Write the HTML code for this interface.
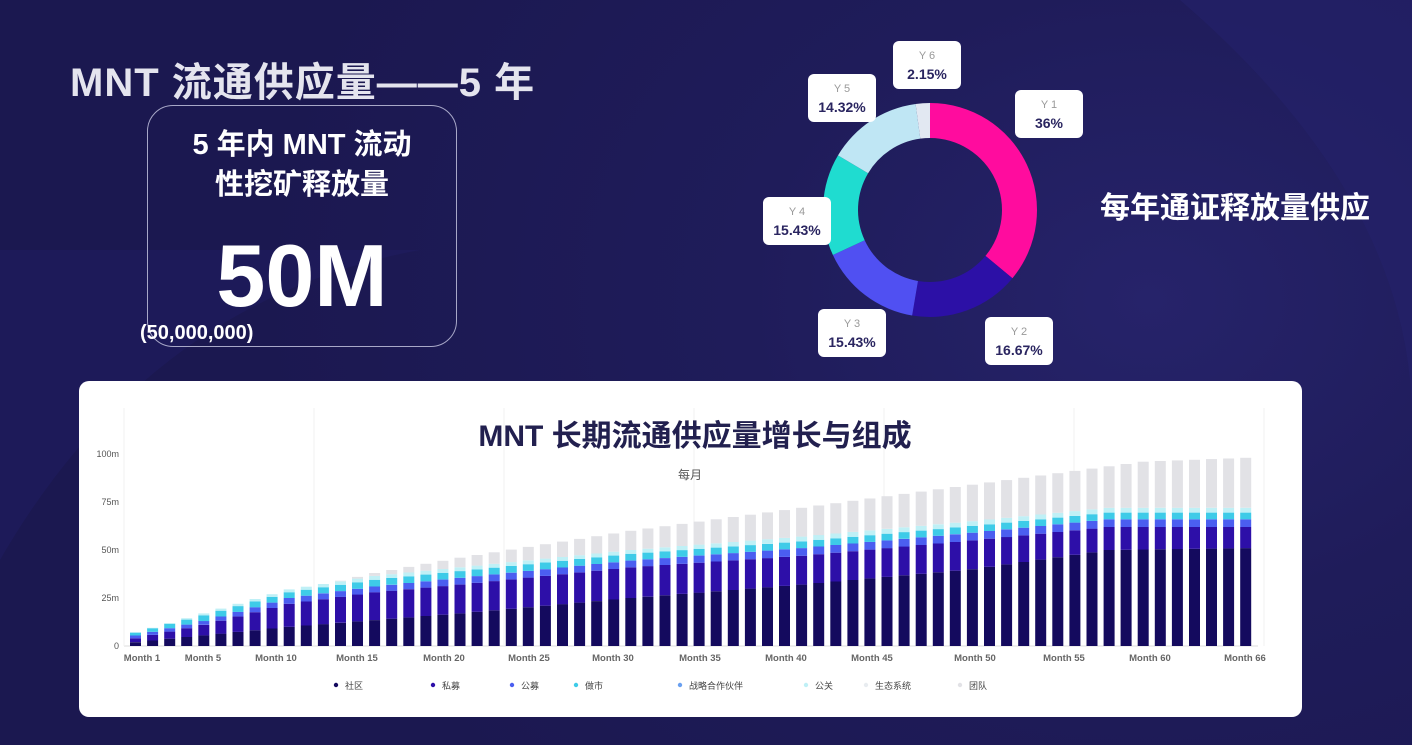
<!DOCTYPE html>
<html><head><meta charset="utf-8">
<style>
html,body{margin:0;padding:0}
body{width:1412px;height:745px;overflow:hidden;position:relative;
background:radial-gradient(ellipse 900px 700px at 1150px 300px,#26236a 0%,#1f1c5a 45%,#1b1850 100%);
font-family:"Liberation Sans","Noto Sans CJK SC",sans-serif;color:#fff}
.t{position:absolute;white-space:nowrap}
</style></head><body>
<svg width="1412" height="745" style="position:absolute;left:0;top:0">
<path d="M1180 0 Q1412 200 1412 420 L1412 0Z" fill="#24216a" opacity="0.6"/>
<path d="M0 560 Q150 300 420 250 L0 250Z" fill="#23206a" opacity="0.35"/>
</svg>
<div class="t" style="left:70px;top:50px;font-size:40px;font-weight:bold;color:#e4e4ee;letter-spacing:1px">MNT 流通供应量——5 年</div>
<div style="position:absolute;left:147px;top:105px;width:310px;height:242px;border:1.5px solid #a8a8c8;border-radius:26px;box-sizing:border-box"></div>
<div class="t" style="left:147px;width:310px;text-align:center;top:125px;font-size:29px;font-weight:bold;line-height:40px">5 年内 MNT 流动<br>性挖矿释放量</div>
<div class="t" style="left:147px;width:310px;text-align:center;top:230px;font-size:88px;font-weight:bold;line-height:92px">50M</div>
<div class="t" style="left:140px;top:322px;font-size:20px;font-weight:bold">(50,000,000)</div>
<div class="t" style="left:1100px;top:183px;font-size:30px;font-weight:bold">每年通证释放量供应</div>
<svg width="1412" height="745" style="position:absolute;left:0;top:0" id="donut"></svg>
<div style="position:absolute;left:79px;top:381px;width:1223px;height:336px;background:#fff;border-radius:10px"></div>
<svg width="1412" height="745" style="position:absolute;left:0;top:0" id="chart"></svg>
<script>
var cx=930,cy=210,R=107,r=72;
var segs=[[36,"#ff0c9e"],[16.67,"#2c10a6"],[15.43,"#5050f2"],[15.43,"#1fdcd0"],[14.32,"#bfe6f4"],[2.15,"#e2e8f2"]];
var s="",a=0;
function pt(rad,ang){return [cx+rad*Math.sin(ang),cy-rad*Math.cos(ang)];}
segs.forEach(function(g){var a0=a/100*2*Math.PI,a1=(a+g[0])/100*2*Math.PI;a+=g[0];
var p1=pt(R,a0),p2=pt(R,a1),p3=pt(r,a1),p4=pt(r,a0),lg=(a1-a0)>Math.PI?1:0;
s+='<path d="M'+p1+' A'+R+' '+R+' 0 '+lg+' 1 '+p2+' L'+p3+' A'+r+' '+r+' 0 '+lg+' 0 '+p4+'Z" fill="'+g[1]+'"/>';});
var labs=[[1015,90,"Y 1","36%"],[985,317,"Y 2","16.67%"],[818,309,"Y 3","15.43%"],[763,197,"Y 4","15.43%"],[808,74,"Y 5","14.32%"],[893,41,"Y 6","2.15%"]];
labs.forEach(function(l){s+='<rect x="'+l[0]+'" y="'+l[1]+'" width="68" height="48" rx="6" fill="#fff"/>'+
'<text x="'+(l[0]+34)+'" y="'+(l[1]+18)+'" text-anchor="middle" font-size="11" fill="#999" font-family="Liberation Sans">'+l[2]+'</text>'+
'<text x="'+(l[0]+34)+'" y="'+(l[1]+38)+'" text-anchor="middle" font-size="14" font-weight="bold" fill="#2a2560" font-family="Liberation Sans">'+l[3]+'</text>';});
document.getElementById('donut').innerHTML=s;
function interp(pts,t){for(var i=0;i<pts.length-1;i++){if(t<=pts[i+1][0]){var f=(t-pts[i][0])/(pts[i+1][0]-pts[i][0]);return pts[i][1]+f*(pts[i+1][1]-pts[i][1]);}}return pts[pts.length-1][1];}
var T=[[1,7],[5,17],[10,28],[15,38],[20,46],[25,53],[30,60],[35,66],[40,72],[45,78],[50,84],[55,90],[60,96],[66,98]];
var C=[[1,2],[10,10],[20,17],[30,25],[40,32],[50,40],[58,50],[66,51]];
var P=[[1,4],[5,11],[10,22],[15,28],[20,32],[30,41],[40,47],[50,55],[58,62],[66,62]];
var Pu=[[1,5.5],[5,13],[10,25],[15,31],[20,35.5],[30,44.5],[40,51],[50,59],[58,66],[66,66]];
var M=[[1,7],[5,16],[10,28],[15,34.5],[20,39],[30,48],[40,54.5],[50,62.5],[58,69.5],[66,69.5]];
var E=[[1,7],[5,17],[10,29.5],[15,36.5],[20,41],[30,50],[40,57],[50,65],[58,72],[66,72]];
var y0=646,k=1.92,c="";
c+='<line x1="124" y1="408" x2="124" y2="646" stroke="#ddd"/><line x1="124" y1="646" x2="1258" y2="646" stroke="#ddd"/>';
for(var g=0;g<=6;g++){var gx=124+g*190;c+='<line x1="'+gx+'" y1="408" x2="'+gx+'" y2="646" stroke="#f2f2f2"/>';}
[[0,"0"],[25,"25m"],[50,"50m"],[75,"75m"],[100,"100m"]].forEach(function(v){c+='<text x="119" y="'+(y0-v[0]*k+3)+'" text-anchor="end" font-size="9" fill="#555" font-family="Liberation Sans">'+v[1]+'</text>';});
for(var t=1;t<=66;t++){var x=130+(t-1)*17.08,w=11;
var vals=[[interp(C,t),"#140a5e"],[interp(P,t),"#2d0fa8"],[interp(Pu,t),"#4b5ef0"],[interp(M,t),"#3ecbe8"],[Math.max(interp(E,t),interp(M,t)),"#bff0f6"],[Math.max(interp(T,t),interp(E,t)),"#e2e2e6"]];
var prev=0;for(var i=0;i<vals.length;i++){var v=vals[i][0];if(v>prev){c+='<rect x="'+x.toFixed(1)+'" y="'+(y0-v*k).toFixed(1)+'" width="'+w+'" height="'+((v-prev)*k).toFixed(1)+'" fill="'+vals[i][1]+'"/>';prev=v;}}}
[[142,"Month 1"],[203,"Month 5"],[276,"Month 10"],[357,"Month 15"],[444,"Month 20"],[529,"Month 25"],[613,"Month 30"],[700,"Month 35"],[786,"Month 40"],[872,"Month 45"],[975,"Month 50"],[1064,"Month 55"],[1150,"Month 60"],[1245,"Month 66"]].forEach(function(m){c+='<text x="'+m[0]+'' +'" y="661" text-anchor="middle" font-size="9.5" font-weight="bold" fill="#666" font-family="Liberation Sans">'+m[1]+'</text>';});
c+='<text x="695" y="446" text-anchor="middle" font-size="30" font-weight="bold" fill="#22204f" font-family="Liberation Sans,Noto Sans CJK SC,sans-serif">MNT 长期流通供应量增长与组成</text>';
c+='<text x="690" y="479" text-anchor="middle" font-size="12" fill="#555" font-family="Noto Sans CJK SC,sans-serif">每月</text>';
[[336,"社区","#140a5e"],[433,"私募","#2d0fa8"],[512,"公募","#4b5ef0"],[576,"做市","#3ecbe8"],[680,"战略合作伙伴","#6aa0f0"],[806,"公关","#bff0f6"],[866,"生态系统","#e8ecf0"],[960,"团队","#e2e2e6"]].forEach(function(l){
c+='<circle cx="'+l[0]+'" cy="685" r="2.2" fill="'+l[2]+'"/><text x="'+(l[0]+9)+'" y="689" font-size="9" fill="#444" font-family="Noto Sans CJK SC,sans-serif">'+l[1]+'</text>';});
document.getElementById('chart').innerHTML=c;
</script>
</body></html>
